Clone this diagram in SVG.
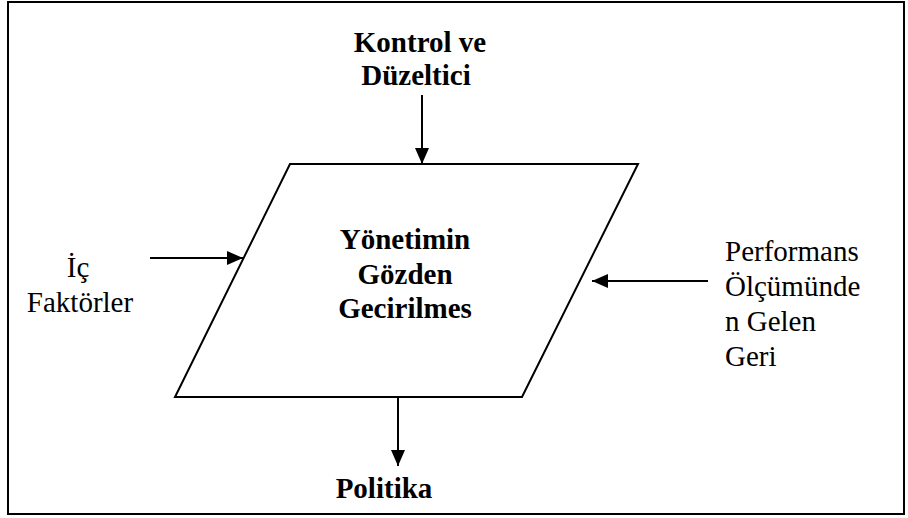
<svg xmlns="http://www.w3.org/2000/svg" width="908" height="518" viewBox="0 0 908 518">
  <style>
    .frame { fill: #ffffff; stroke: #000000; stroke-width: 2; }
    .shape { fill: #ffffff; stroke: #000000; stroke-width: 2; }
    .conn { fill: none; stroke: #000000; stroke-width: 2; }
    .bold { font-weight: bold; font-size: 29px; fill: #000000; text-anchor: middle; }
    .reg { font-size: 29px; fill: #000000; }
  </style>
  <defs>
    <marker id="arrow" viewBox="0 0 16 14" refX="16" refY="7" markerWidth="16" markerHeight="14" markerUnits="userSpaceOnUse" orient="auto">
      <path d="M0,0 L16,7 L0,14 Z" fill="#000000"/>
    </marker>
  </defs>

  <!-- outer frame -->
  <rect class="frame" x="8" y="2" width="896" height="512"/>

  <g font-family="Liberation Serif, Tinos, Times New Roman, DejaVu Serif, serif">
    <!-- central process node -->
    <g id="node-review">
      <polygon class="shape" points="290,164 638,164 522,397 175,397"/>
      <text class="bold" x="405" y="249">Yönetimin</text>
      <text class="bold" x="405" y="284">Gözden</text>
      <text class="bold" x="405" y="318">Gecirilmes</text>
    </g>

    <g id="node-control">
      <text class="bold" x="420" y="52">Kontrol ve</text>
      <text class="bold" x="416" y="85">Düzeltici</text>
    </g>

    <g id="node-internal">
      <text class="reg" x="78" y="277" text-anchor="middle">İç</text>
      <text class="reg" x="80" y="312" text-anchor="middle">Faktörler</text>
    </g>

    <g id="node-feedback">
      <text class="reg" x="725" y="261">Performans</text>
      <text class="reg" x="725" y="296">Ölçümünde</text>
      <text class="reg" x="725" y="331">n Gelen</text>
      <text class="reg" x="725" y="366">Geri</text>
    </g>

    <g id="node-policy">
      <text class="bold" x="384" y="498">Politika</text>
    </g>
  </g>

  <!-- connectors -->
  <g id="connectors">
    <line class="conn" x1="422" y1="95" x2="422" y2="164" marker-end="url(#arrow)"/>
    <line class="conn" x1="150" y1="258" x2="243" y2="258" marker-end="url(#arrow)"/>
    <line class="conn" x1="708" y1="281" x2="592" y2="281" marker-end="url(#arrow)"/>
    <line class="conn" x1="398" y1="397" x2="398" y2="466" marker-end="url(#arrow)"/>
  </g>
</svg>
